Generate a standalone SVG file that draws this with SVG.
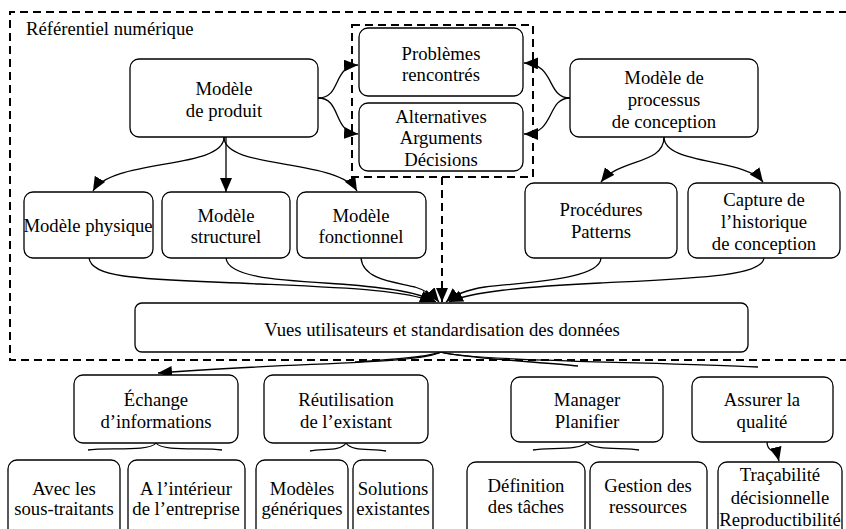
<svg xmlns="http://www.w3.org/2000/svg" width="846" height="529" viewBox="0 0 846 529">
<style>
  .box { fill: #ffffff; stroke: #000000; stroke-width: 1.3; }
  .t { font-family: "Liberation Serif", "Times New Roman", serif; font-size: 18.7px; fill: #000000; text-anchor: middle; }
  .tl { font-family: "Liberation Serif", "Times New Roman", serif; font-size: 18.7px; fill: #000000; }
  .edge { fill: none; stroke: #000000; stroke-width: 1.3; }
  .fwd { marker-end: url(#arr); }
  .up { marker-end: url(#arrUp); }
  .dash { fill: none; stroke: #000000; stroke-width: 2; stroke-dasharray: 8 5; }
</style>
<defs>
  <marker id="arr" markerUnits="userSpaceOnUse" markerWidth="15" markerHeight="13" refX="14" refY="6" orient="auto">
    <path d="M0,0 L14,6 L0,12 z" fill="#000000"/>
  </marker>
  <marker id="arrUp" markerUnits="userSpaceOnUse" markerWidth="14" markerHeight="14" refX="0" refY="6.5" orient="270">
    <path d="M-11,0 L0,6.5 L-11,13 z" fill="#000000"/>
  </marker>
</defs>
<rect width="846" height="529" fill="#ffffff"/>

<!-- clusters -->
<g id="referentiel">
  <path class="dash" d="M860,12 L10,12 L10,360 L860,360"/>
  <text class="tl" x="26" y="35">Référentiel numérique</text>
</g>
<g id="cluster-decisions">
  <rect class="dash" x="352" y="25" width="181" height="152"/>
</g>

<!-- connectors -->
<g id="connectors">
  <path class="edge fwd" d="M224,137 C224,170 112,158 93,191"/>
  <path class="edge fwd" d="M226,137 L226,192"/>
  <path class="edge fwd" d="M224,137 C224,170 338,158 357,191"/>
  <path class="edge fwd" d="M318,98 C342,98 332,66 358,65"/>
  <path class="edge fwd" d="M318,98 C342,98 332,132 358,134"/>
  <path class="edge fwd" d="M570,98 C546,98 556,64 524,63"/>
  <path class="edge fwd" d="M570,98 C546,98 556,134 524,134"/>
  <path class="edge fwd" d="M664,137 C664,165 620,158 601,182"/>
  <path class="edge fwd" d="M664,137 C664,165 745,158 763,182"/>

  <path class="edge fwd" d="M89,258 C92,280 150,279 260,284 C350,288 405,290 434,302"/>
  <path class="edge fwd" d="M226,258 C228,278 280,280 340,284 C390,288 418,292 436,302"/>
  <path class="edge fwd" d="M361,258 C363,280 395,282 415,287 C428,291 434,296 439,302"/>
  <path class="dash fwd" d="M442,177 L442,302"/>
  <path class="edge fwd" d="M601,258 C600,280 525,282 485,287 C465,290 454,295 446,302"/>
  <path class="edge fwd" d="M764,258 C762,276 700,278 600,283 C520,287 470,292 449,302"/>

  <path class="edge fwd" d="M441,352 C420,364 300,362 158,373"/>
  <path class="edge up" d="M441,352 C420,358 385,360 355,362"/>
  <path class="edge up" d="M441,352 C462,358 540,362 578,366"/>
  <path class="edge up" d="M441,352 C470,361 650,362 758,367"/>

  <path class="edge up" d="M156,443 C150,452 105,447 88,450"/>
  <path class="edge up" d="M156,443 C162,452 205,447 222,450"/>
  <path class="edge up" d="M346,443 C340,452 322,448 310,451"/>
  <path class="edge up" d="M346,443 C352,452 372,448 386,451"/>
  <path class="edge up" d="M587,442 C581,451 548,447 533,450"/>
  <path class="edge up" d="M587,442 C593,451 625,447 639,450"/>
  <path class="edge fwd" d="M767,442 C767,452 776,449 779,461"/>
</g>

<!-- nodes -->
<g id="modele-produit">
  <rect class="box" x="130" y="59" width="188" height="78" rx="9"/>
  <text class="t" x="224" y="95">Modèle</text>
  <text class="t" x="224" y="117">de produit</text>
</g>
<g id="problemes">
  <rect class="box" x="359" y="28" width="164" height="68" rx="9"/>
  <text class="t" x="441" y="60">Problèmes</text>
  <text class="t" x="441" y="81">rencontrés</text>
</g>
<g id="alternatives">
  <rect class="box" x="359" y="103" width="164" height="68" rx="9"/>
  <text class="t" x="441" y="123">Alternatives</text>
  <text class="t" x="441" y="144">Arguments</text>
  <text class="t" x="441" y="166">Décisions</text>
</g>
<g id="modele-processus">
  <rect class="box" x="570" y="59" width="188" height="78" rx="9"/>
  <text class="t" x="664" y="84">Modèle de</text>
  <text class="t" x="664" y="106">processus</text>
  <text class="t" x="664" y="128">de conception</text>
</g>
<g id="modele-physique">
  <rect class="box" x="24" y="192" width="129" height="66" rx="9"/>
  <text class="t" x="88" y="232">Modèle physique</text>
</g>
<g id="modele-structurel">
  <rect class="box" x="162" y="192" width="128" height="66" rx="9"/>
  <text class="t" x="226" y="222">Modèle</text>
  <text class="t" x="226" y="243">structurel</text>
</g>
<g id="modele-fonctionnel">
  <rect class="box" x="297" y="192" width="129" height="66" rx="9"/>
  <text class="t" x="361" y="222">Modèle</text>
  <text class="t" x="361" y="243">fonctionnel</text>
</g>
<g id="procedures">
  <rect class="box" x="525" y="183" width="152" height="75" rx="9"/>
  <text class="t" x="601" y="216">Procédures</text>
  <text class="t" x="601" y="238">Patterns</text>
</g>
<g id="capture">
  <rect class="box" x="688" y="183" width="152" height="75" rx="9"/>
  <text class="t" x="764" y="206">Capture de</text>
  <text class="t" x="764" y="228">l’historique</text>
  <text class="t" x="764" y="250">de conception</text>
</g>
<g id="vues">
  <rect class="box" x="135" y="303" width="613" height="49" rx="7"/>
  <text class="t" x="442" y="336">Vues utilisateurs et standardisation des données</text>
</g>
<g id="echange">
  <rect class="box" x="74" y="375" width="164" height="68" rx="9"/>
  <text class="t" x="156" y="406">Échange</text>
  <text class="t" x="156" y="428">d’informations</text>
</g>
<g id="reutilisation">
  <rect class="box" x="264" y="375" width="164" height="68" rx="9"/>
  <text class="t" x="346" y="406">Réutilisation</text>
  <text class="t" x="346" y="428">de l’existant</text>
</g>
<g id="manager">
  <rect class="box" x="511" y="377" width="152" height="65" rx="9"/>
  <text class="t" x="587" y="406">Manager</text>
  <text class="t" x="587" y="428">Planifier</text>
</g>
<g id="assurer">
  <rect class="box" x="692" y="377" width="141" height="65" rx="9"/>
  <text class="t" x="762" y="406">Assurer la</text>
  <text class="t" x="762" y="428">qualité</text>
</g>
<g id="avec">
  <rect class="box" x="8" y="460" width="112" height="80" rx="9"/>
  <text class="t" x="64" y="495">Avec les</text>
  <text class="t" x="64" y="515">sous-traitants</text>
</g>
<g id="interieur">
  <rect class="box" x="128" y="460" width="117" height="80" rx="9"/>
  <text class="t" x="186" y="495">A l’intérieur</text>
  <text class="t" x="186" y="515">de l’entreprise</text>
</g>
<g id="modeles-generiques">
  <rect class="box" x="256" y="460" width="92" height="80" rx="9"/>
  <text class="t" x="302" y="495">Modèles</text>
  <text class="t" x="302" y="515">génériques</text>
</g>
<g id="solutions">
  <rect class="box" x="353" y="460" width="80" height="80" rx="9"/>
  <text class="t" x="393" y="495">Solutions</text>
  <text class="t" x="393" y="515">existantes</text>
</g>
<g id="definition">
  <rect class="box" x="467" y="462" width="118" height="78" rx="9"/>
  <text class="t" x="526" y="492">Définition</text>
  <text class="t" x="526" y="513">des tâches</text>
</g>
<g id="gestion">
  <rect class="box" x="590" y="462" width="117" height="78" rx="9"/>
  <text class="t" x="648" y="492">Gestion des</text>
  <text class="t" x="648" y="513">ressources</text>
</g>
<g id="tracabilite">
  <rect class="box" x="718" y="462" width="124" height="78" rx="9"/>
  <text class="t" x="780" y="481">Traçabilité</text>
  <text class="t" x="780" y="504">décisionnelle</text>
  <text class="t" x="780" y="526">Reproductibilité</text>
</g>
</svg>
